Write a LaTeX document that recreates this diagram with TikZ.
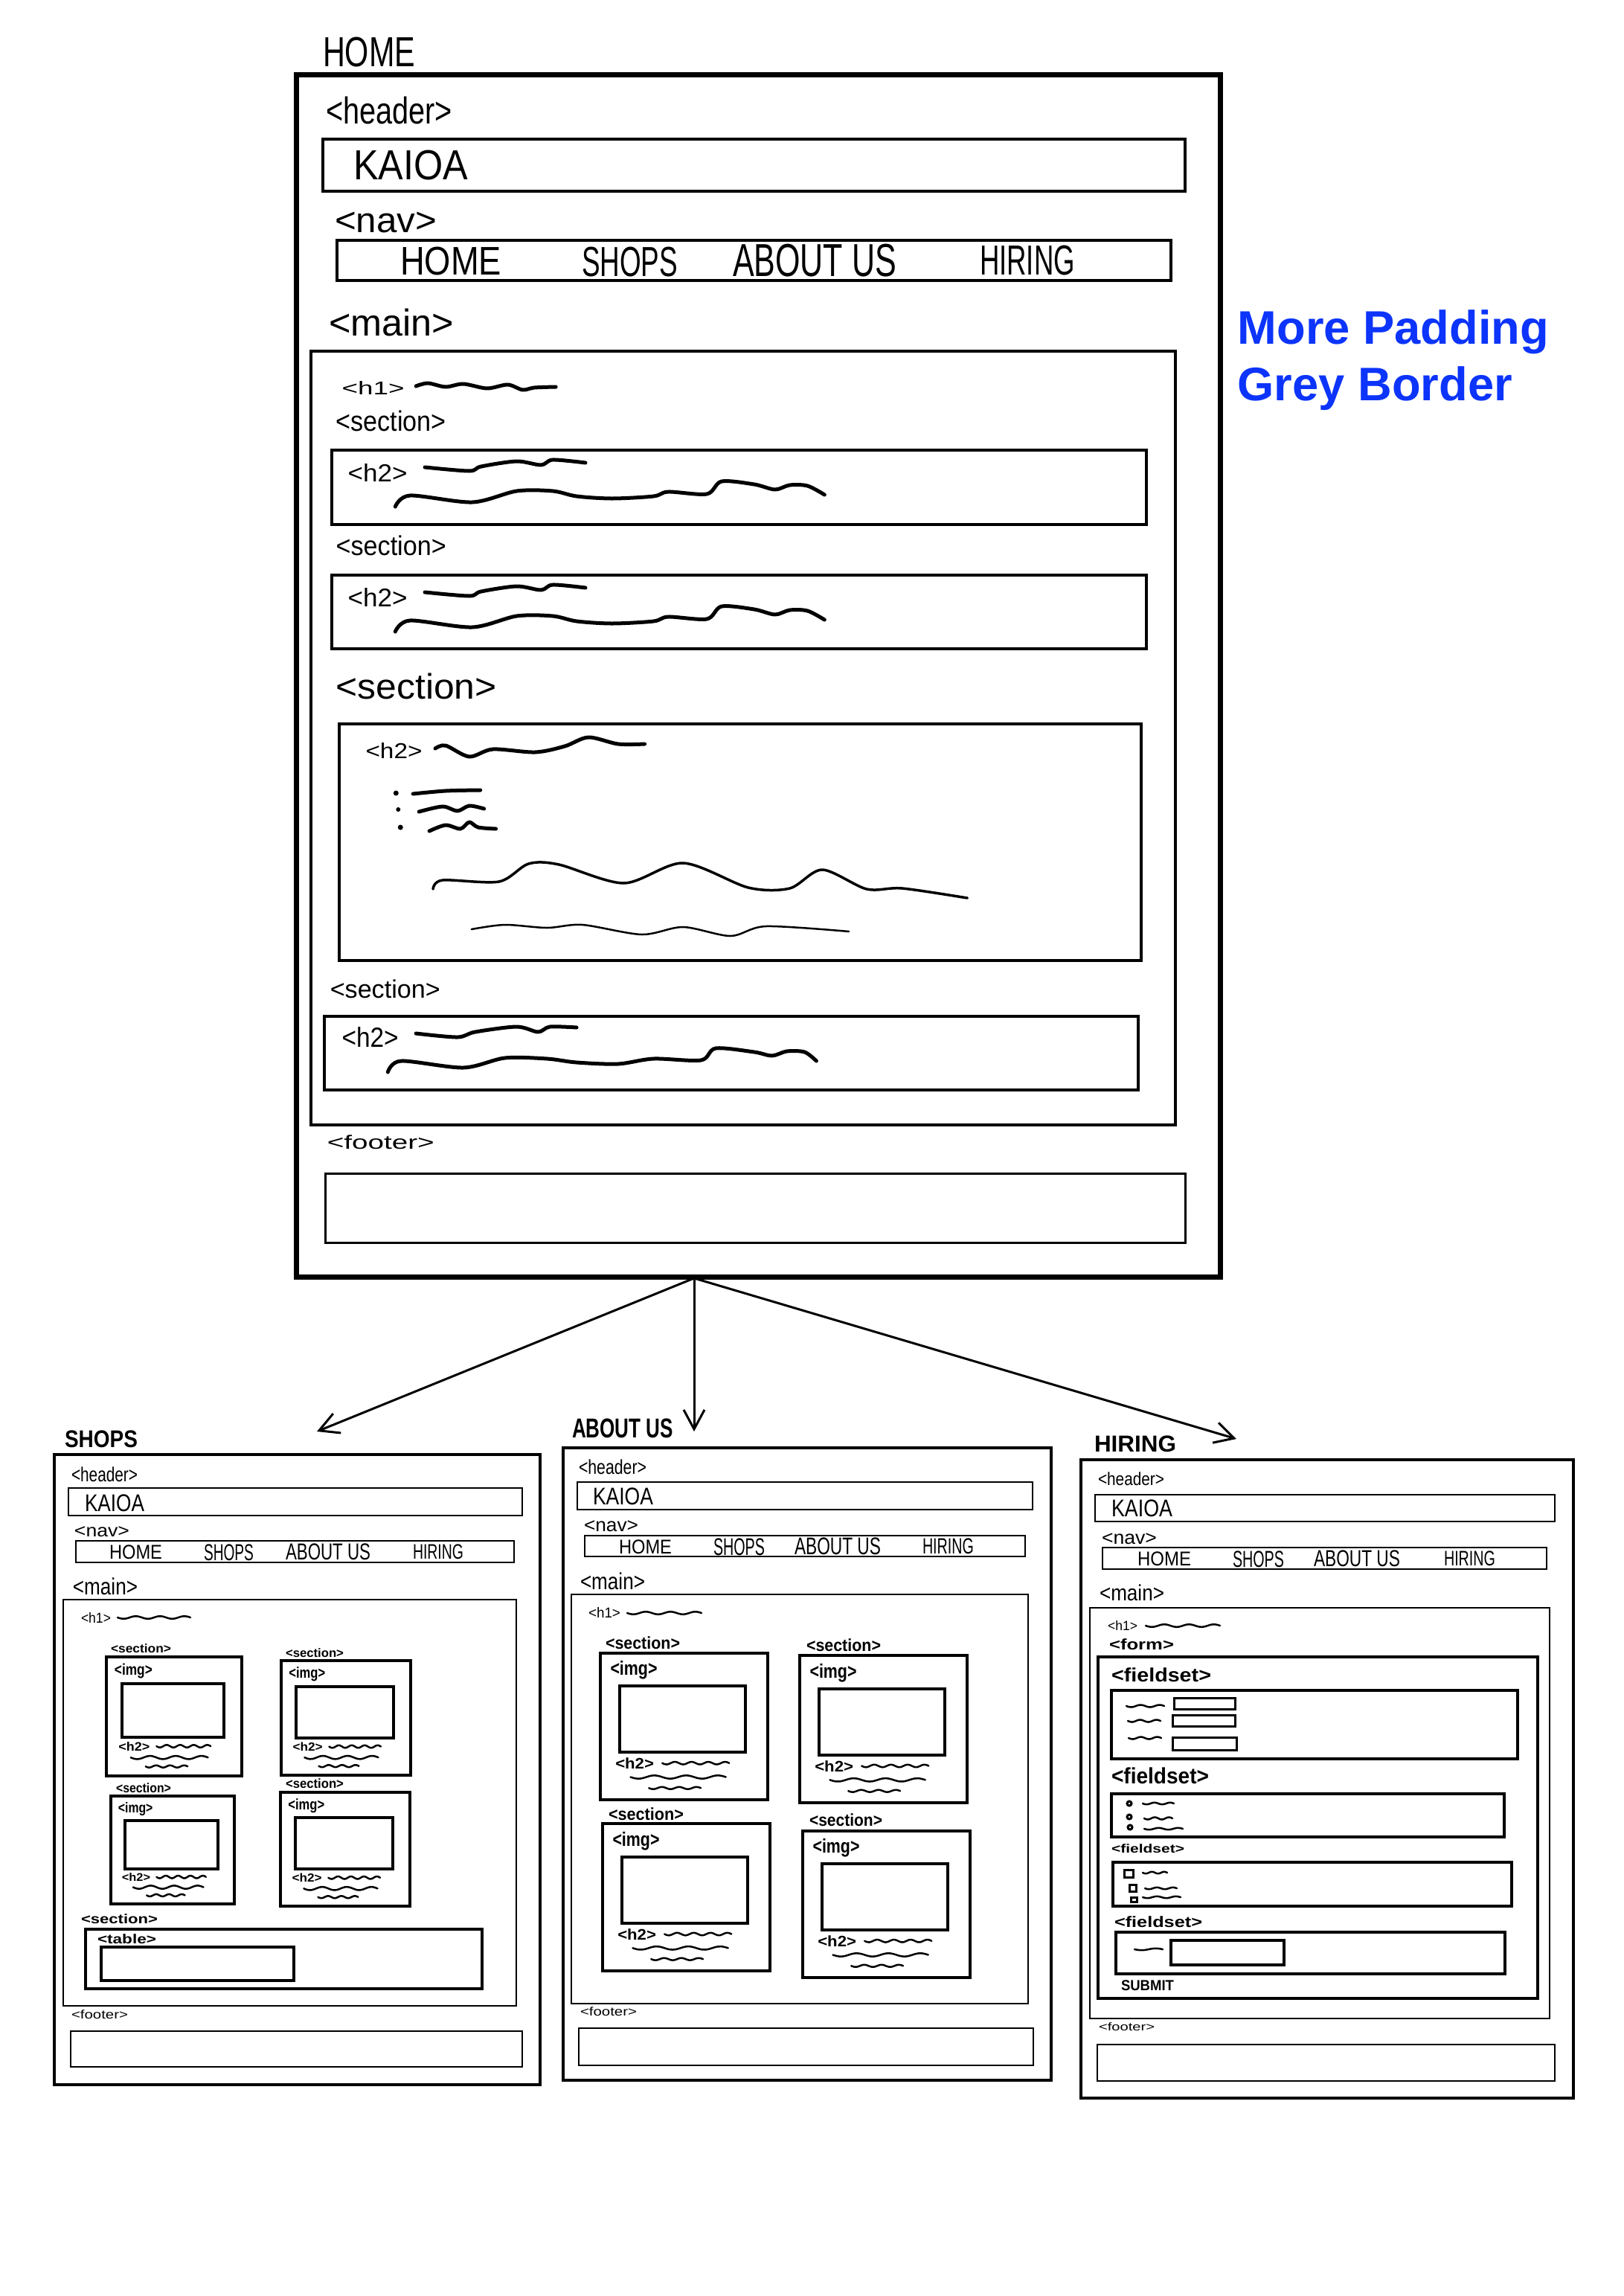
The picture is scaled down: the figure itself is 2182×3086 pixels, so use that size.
\documentclass[tikz,border=0pt]{standalone}
\usepackage{fontspec}
\setmainfont{Liberation Sans}
\usepackage{graphicx}
\usetikzlibrary{fit,arrows.meta}
\definecolor{notecol}{RGB}{12,52,250}
\tikzset{
  lbl/.style={anchor=north west, inner sep=0pt, outer sep=0pt},
  frame/.style={draw, inner sep=0pt, line width=0.4mm},
  bigframe/.style={draw, inner sep=0pt, line width=0.7mm},
  thinframe/.style={draw, inner sep=0pt, line width=0.25mm},
  midframe/.style={draw, inner sep=0pt, line width=0.3mm},
  cardb/.style={draw, inner sep=0pt, line width=0.4mm},
  hsq/.style={line width=0.5mm, line cap=round, line join=round},
  msq/.style={line width=0.35mm, line cap=round, line join=round},
  ssq/.style={line width=0.25mm, line cap=round, line join=round},
  arr/.style={line width=0.3mm, -{Straight Barb[length=2.6mm,width=2.8mm]}},
  note/.style={anchor=base west, inner sep=0pt, text=notecol, font=\bfseries\fontsize{18pt}{21pt}\selectfont},
  bf/.style={font=\bfseries},
}
\newcommand{\hwlab}[7][]{%
  \pgfmathsetlengthmacro\hwlw{(#5-#3)*0.1mm}%
  \pgfmathsetlengthmacro\hwlh{(#6-#4)*0.1mm}%
  \node[lbl,#1] (#2) at (#3,#4) {\resizebox*{\hwlw}{\hwlh}{#7}};}
\newcommand{\hwbox}[6][frame]{\node[#1, fit={(#3,#4) (#5,#6)}] (#2) {};}
\newcommand{\hwwave}[6][ssq]{\draw[#1] plot[smooth, samples=30, domain=#2:#3] (\x,{#4+#5*sin((\x-#2)/(#3-#2)*#6*360)});}
\newcommand{\hwcard}[5]{%
  \pgfmathsetmacro\cqw{#4-#2}\pgfmathsetmacro\cqh{#5-#3}%
  \hwbox[cardb]{#1}{#2}{#3}{#4}{#5}%
  \pgfmathsetmacro\cqa{#2+0.115*\cqw}\pgfmathsetmacro\cqb{#3+0.225*\cqh}%
  \pgfmathsetmacro\cqc{#2+0.868*\cqw}\pgfmathsetmacro\cqd{#3+0.675*\cqh}%
  \hwbox[cardb]{#1i}{\cqa}{\cqb}{\cqc}{\cqd}%
  \pgfmathsetmacro\cqa{#2+0.06*\cqw}\pgfmathsetmacro\cqb{#3+0.055*\cqh}%
  \pgfmathsetmacro\cqc{#2+0.34*\cqw}\pgfmathsetmacro\cqd{#3+0.18*\cqh}%
  \hwlab[bf]{#1l}{\cqa}{\cqb}{\cqc}{\cqd}{<img>}%
  \pgfmathsetmacro\cqa{#2+0.09*\cqw}\pgfmathsetmacro\cqb{#3+0.715*\cqh}%
  \pgfmathsetmacro\cqc{#2+0.32*\cqw}\pgfmathsetmacro\cqd{#3+0.79*\cqh}%
  \hwlab[bf]{#1h}{\cqa}{\cqb}{\cqc}{\cqd}{<h2>}%
  \pgfmathsetmacro\cqa{#2+0.37*\cqw}\pgfmathsetmacro\cqc{#2+0.77*\cqw}\pgfmathsetmacro\cqb{#3+0.75*\cqh}%
  \hwwave{\cqa}{\cqc}{\cqb}{1.8}{4}%
  \pgfmathsetmacro\cqa{#2+0.18*\cqw}\pgfmathsetmacro\cqc{#2+0.75*\cqw}\pgfmathsetmacro\cqb{#3+0.845*\cqh}%
  \hwwave{\cqa}{\cqc}{\cqb}{2.2}{3}%
  \pgfmathsetmacro\cqa{#2+0.29*\cqw}\pgfmathsetmacro\cqc{#2+0.6*\cqw}\pgfmathsetmacro\cqb{#3+0.92*\cqh}%
  \hwwave{\cqa}{\cqc}{\cqb}{1.5}{3}%
}
\begin{document}
\begin{tikzpicture}[x=0.1mm,y=-0.1mm]
\useasboundingbox (0,0) rectangle (2182,3086);

% ================= HOME =================
\hwlab{tHome}{434}{50}{558}{90}{HOME}
\hwbox[bigframe]{home}{398}{101}{1640}{1716}
\hwlab{hHdr}{438}{130}{608}{167}{<header>}
\hwbox{hKai}{434}{187}{1593}{257}
\hwlab{hKaiT}{475}{202}{629}{242}{KAIOA}
\hwlab{hNavL}{450}{285}{587}{313}{<nav>}
\hwbox{hNav}{453}{323}{1574}{377}
\hwlab{hN1}{538}{332}{674}{370}{HOME}
\hwlab{hN2}{782}{332}{911}{372}{SHOPS}
\hwlab{hN3}{985}{328}{1205}{372}{ABOUT US}
\hwlab{hN4}{1317}{330}{1445}{370}{HIRING}
\hwlab{hMainL}{442}{415}{610}{452}{<main>}

\begin{scope}[x=0.09949mm, xshift=0.204mm]
\hwbox{hMain}{418}{472}{1586}{1512}
\hwlab{hH1}{460}{512}{544}{530}{<h1>}
\draw[hsq] plot[smooth] coordinates {(560,519) (576,515) (600,520) (624,516) (656,522) (684,517) (704,524) (720,521) (749,520)};

\hwlab{hS1L}{452}{552}{600}{580}{<section>}
\hwbox{hS1}{446}{605}{1547}{705}
\hwlab{hS1h}{468}{623}{548}{647}{<h2>}
\draw[hsq] plot[smooth] coordinates {(572,628) (632,633) (648,627) (696,620) (729,625) (745,618) (789,622)};
\draw[hsq] plot[smooth] coordinates {(532,681) (552,666) (636,675) (696,660) (745,660) (777,667) (825,670) (881,667) (901,661) (953,664) (973,647) (1017,651) (1045,658) (1065,652) (1089,653) (1112,665)};

\hwlab{hS2L}{452}{720}{600}{747}{<section>}
\hwbox{hS2}{446}{773}{1547}{872}
\hwlab{hS2h}{468}{790}{548}{815}{<h2>}
\begin{scope}[shift={(0,168)}]
\draw[hsq] plot[smooth] coordinates {(572,628) (632,633) (648,627) (696,620) (729,625) (745,618) (789,622)};
\draw[hsq] plot[smooth] coordinates {(532,681) (552,666) (636,675) (696,660) (745,660) (777,667) (825,670) (881,667) (901,661) (953,664) (973,647) (1017,651) (1045,658) (1065,652) (1089,653) (1112,665)};
\end{scope}

\hwlab{hS3L}{452}{905}{668}{940}{<section>}
\hwbox{hS3}{456}{973}{1540}{1291}
\hwlab{hS3h}{492}{998}{568}{1019}{<h2>}
\draw[hsq] plot[smooth] coordinates {(586,1006) (600,1002) (632,1017) (664,1007) (721,1011) (761,1003) (793,991) (833,1000) (869,1000)};
\fill (533,1066) circle (0.35mm);
\fill (536,1088) circle (0.3mm);
\fill (539,1112) circle (0.35mm);
\draw[hsq] plot[smooth] coordinates {(556,1067) (600,1063) (647,1062)};
\draw[hsq] plot[smooth] coordinates {(564,1091) (596,1084) (616,1090) (632,1083) (652,1087)};
\draw[hsq] plot[smooth] coordinates {(578,1117) (600,1109) (620,1114) (632,1105) (644,1112) (668,1114)};
\draw[msq] plot[smooth] coordinates {(583,1195) (596,1183) (672,1185) (712,1161) (753,1162) (841,1187) (921,1160) (1009,1193) (1065,1194) (1109,1169) (1169,1195) (1217,1194) (1305,1207)};
\draw[ssq] plot[smooth] coordinates {(635,1249) (680,1243) (737,1247) (785,1243) (865,1256) (921,1246) (985,1258) (1033,1245) (1145,1252)};

\hwlab{hS4L}{444}{1317}{592}{1342}{<section>}
\hwbox{hS4}{436}{1366}{1536}{1465}
\hwlab{hS4h}{460}{1380}{536}{1407}{<h2>}
\draw[hsq] plot[smooth] coordinates {(560,1389) (616,1394) (640,1387) (696,1380) (725,1387) (741,1380) (777,1381)};
\draw[hsq] plot[smooth] coordinates {(522,1441) (540,1426) (624,1435) (680,1422) (737,1423) (777,1428) (833,1430) (881,1423) (945,1425) (965,1409) (1017,1414) (1041,1419) (1061,1413) (1085,1414) (1101,1426)};

\hwlab{hFootL}{440}{1526}{584}{1545}{<footer>}
\hwbox[midframe]{hFoot}{438}{1577}{1600}{1670}
\end{scope}

\node[note] (n1) at (1663,462) {More Padding};
\node[note] (n2) at (1663,538) {Grey Border};

% ================= arrows =================
\coordinate (aO) at (933,1718);
\coordinate (aS) at (426,1924);
\coordinate (aA) at (933,1924);
\coordinate (aH) at (1662,1934);
\draw[arr] (aO) -- (aS);
\draw[arr] (aO) -- (aA);
\draw[arr] (aO) -- (aH);

% ================= SHOPS =================
\hwlab[bf]{tShops}{87}{1923}{185}{1946}{SHOPS}
\hwbox{shops}{73}{1955}{726}{2802}
\hwlab{sHdr}{96}{1972}{185}{1992}{<header>}
\hwbox[thinframe]{sKai}{92}{2000}{702}{2037}
\hwlab{sKaiT}{114}{2009}{194}{2032}{KAIOA}
\hwlab{sNavL}{100}{2052}{174}{2066}{<nav>}
\hwbox[thinframe]{sNav}{102}{2071}{691}{2100}
\hwlab{sN1}{147}{2077}{218}{2096}{HOME}
\hwlab{sN2}{274}{2076}{341}{2098}{SHOPS}
\hwlab{sN3}{384}{2075}{498}{2097}{ABOUT US}
\hwlab{sN4}{555}{2076}{623}{2096}{HIRING}
\hwlab{sMainL}{98}{2121}{185}{2144}{<main>}
\hwbox[thinframe]{sMain}{85}{2150}{694}{2696}
\hwlab{sH1}{109}{2167}{149}{2181}{<h1>}
\hwwave{158}{256}{2174}{1.8}{3}
\hwlab[bf]{sAL}{149}{2210}{230}{2222}{<section>}
\hwcard{sA}{143}{2227}{325}{2387}
\hwlab[bf]{sBL}{384}{2216}{462}{2228}{<section>}
\hwcard{sB}{378}{2232}{552}{2386}
\hwlab[bf]{sCL}{156}{2397}{230}{2410}{<section>}
\hwcard{sC}{149}{2414}{315}{2559}
\hwlab[bf]{sDL}{384}{2391}{462}{2404}{<section>}
\hwcard{sD}{377}{2409}{551}{2562}
\hwlab[bf]{sEL}{109}{2573}{212}{2586}{<section>}
\hwbox[cardb]{sE}{115}{2593}{648}{2673}
\hwlab[bf]{sEt}{131}{2600}{210}{2613}{<table>}
\hwbox[cardb]{sEtab}{136}{2617}{395}{2662}
\hwlab{sFootL}{96}{2702}{172}{2714}{<footer>}
\hwbox[thinframe]{sFoot}{95}{2730}{702}{2778}

% ================= ABOUT US =================
\hwlab[bf]{tAbout}{769}{1907}{905}{1933}{ABOUT US}
\hwbox{about}{757}{1946}{1413}{2796}
\hwlab{aHdr}{778}{1962}{869}{1982}{<header>}
\hwbox[thinframe]{aKai}{776}{1992}{1388}{2029}
\hwlab{aKaiT}{797}{2000}{878}{2023}{KAIOA}
\hwlab{aNavL}{785}{2044}{858}{2059}{<nav>}
\hwbox[thinframe]{aNav}{786}{2064}{1378}{2092}
\hwlab{aN1}{832}{2070}{903}{2089}{HOME}
\hwlab{aN2}{959}{2068}{1028}{2091}{SHOPS}
\hwlab{aN3}{1068}{2067}{1184}{2090}{ABOUT US}
\hwlab{aN4}{1240}{2068}{1309}{2089}{HIRING}
\hwlab{aMainL}{780}{2114}{867}{2137}{<main>}
\hwbox[thinframe]{aMain}{768}{2143}{1382}{2693}
\hwlab{aH1}{791}{2160}{834}{2174}{<h1>}
\hwwave{843}{943}{2168}{1.8}{3}
\hwlab[bf]{aAL}{814}{2200}{914}{2217}{<section>}
\hwcard{aA}{807}{2222}{1032}{2419}
\hwlab[bf]{aBL}{1084}{2203}{1184}{2220}{<section>}
\hwcard{aB}{1075}{2225}{1300}{2423}
\hwlab[bf]{aCL}{818}{2430}{919}{2447}{<section>}
\hwcard{aC}{810}{2451}{1035}{2649}
\hwlab[bf]{aDL}{1088}{2438}{1186}{2455}{<section>}
\hwcard{aD}{1079}{2461}{1304}{2658}
\hwlab{aFootL}{780}{2698}{856}{2710}{<footer>}
\hwbox[thinframe]{aFoot}{778}{2726}{1389}{2776}

% ================= HIRING =================
\hwlab[bf]{tHiring}{1471}{1930}{1581}{1952}{HIRING}
\hwbox{hiring}{1453}{1962}{2115}{2820}
\hwlab{rHdr}{1476}{1979}{1565}{1997}{<header>}
\hwbox[thinframe]{rKai}{1472}{2009}{2090}{2045}
\hwlab{rKaiT}{1494}{2016}{1576}{2039}{KAIOA}
\hwlab{rNavL}{1481}{2061}{1555}{2076}{<nav>}
\hwbox[thinframe]{rNav}{1482}{2080}{2079}{2109}
\hwlab{rN1}{1529}{2086}{1601}{2105}{HOME}
\hwlab{rN2}{1657}{2085}{1726}{2107}{SHOPS}
\hwlab{rN3}{1766}{2084}{1882}{2106}{ABOUT US}
\hwlab{rN4}{1941}{2085}{2010}{2105}{HIRING}
\hwlab{rMainL}{1478}{2130}{1565}{2152}{<main>}
\hwbox[thinframe]{rMain}{1465}{2161}{2083}{2713}
\hwlab{rH1}{1489}{2178}{1529}{2191}{<h1>}
\hwwave{1540}{1640}{2185}{1.8}{3}
\hwlab[bf]{rFormL}{1491}{2203}{1578}{2218}{<form>}
\hwbox[cardb]{rForm}{1476}{2227}{2067}{2686}
\hwlab[bf]{rF1L}{1494}{2242}{1628}{2261}{<fieldset>}
\hwbox[cardb]{rF1}{1494}{2272}{2040}{2364}
\hwwave{1514}{1565}{2293}{1.5}{2}
\hwwave{1516}{1560}{2313}{1.5}{2}
\hwwave{1517}{1561}{2336}{1.5}{2}
\hwbox[midframe]{rI1}{1578}{2282}{1660}{2297}
\hwbox[midframe]{rI2}{1576}{2305}{1660}{2320}
\hwbox[midframe]{rI3}{1576}{2335}{1662}{2352}
\hwlab[bf]{rF2L}{1494}{2376}{1625}{2398}{<fieldset>}
\hwbox[cardb]{rF2}{1494}{2411}{2022}{2469}
\draw[line width=0.3mm] (1518,2424) circle (0.3mm);
\draw[line width=0.3mm] (1518,2442) circle (0.3mm);
\draw[line width=0.3mm] (1519,2456) circle (0.3mm);
\hwwave{1536}{1578}{2424}{1.2}{2}
\hwwave{1538}{1576}{2444}{1.5}{2}
\hwwave{1538}{1590}{2458}{1.2}{2}
\hwlab[bf]{rF3L}{1494}{2479}{1592}{2491}{<fieldset>}
\hwbox[cardb]{rF3}{1496}{2503}{2032}{2562}
\draw[line width=0.3mm] (1511,2513) rectangle (1523,2523);
\draw[line width=0.3mm] (1518,2533) rectangle (1527,2542);
\draw[line width=0.3mm] (1520,2550) rectangle (1528,2556);
\hwwave{1536}{1569}{2517}{1.2}{2}
\hwwave{1539}{1582}{2538}{1.2}{2}
\hwwave{1536}{1587}{2550}{1.2}{2}
\hwlab[bf]{rF4L}{1498}{2576}{1616}{2591}{<fieldset>}
\hwbox[cardb]{rF4}{1500}{2597}{2023}{2653}
\hwwave{1525}{1563}{2620}{1.2}{1}
\hwbox[cardb]{rI4}{1574}{2608}{1726}{2641}
\hwlab[bf]{rSub}{1507}{2662}{1578}{2676}{SUBMIT}
\hwlab{rFootL}{1477}{2719}{1552}{2730}{<footer>}
\hwbox[thinframe]{rFoot}{1475}{2748}{2090}{2797}
\end{tikzpicture}
\end{document}
